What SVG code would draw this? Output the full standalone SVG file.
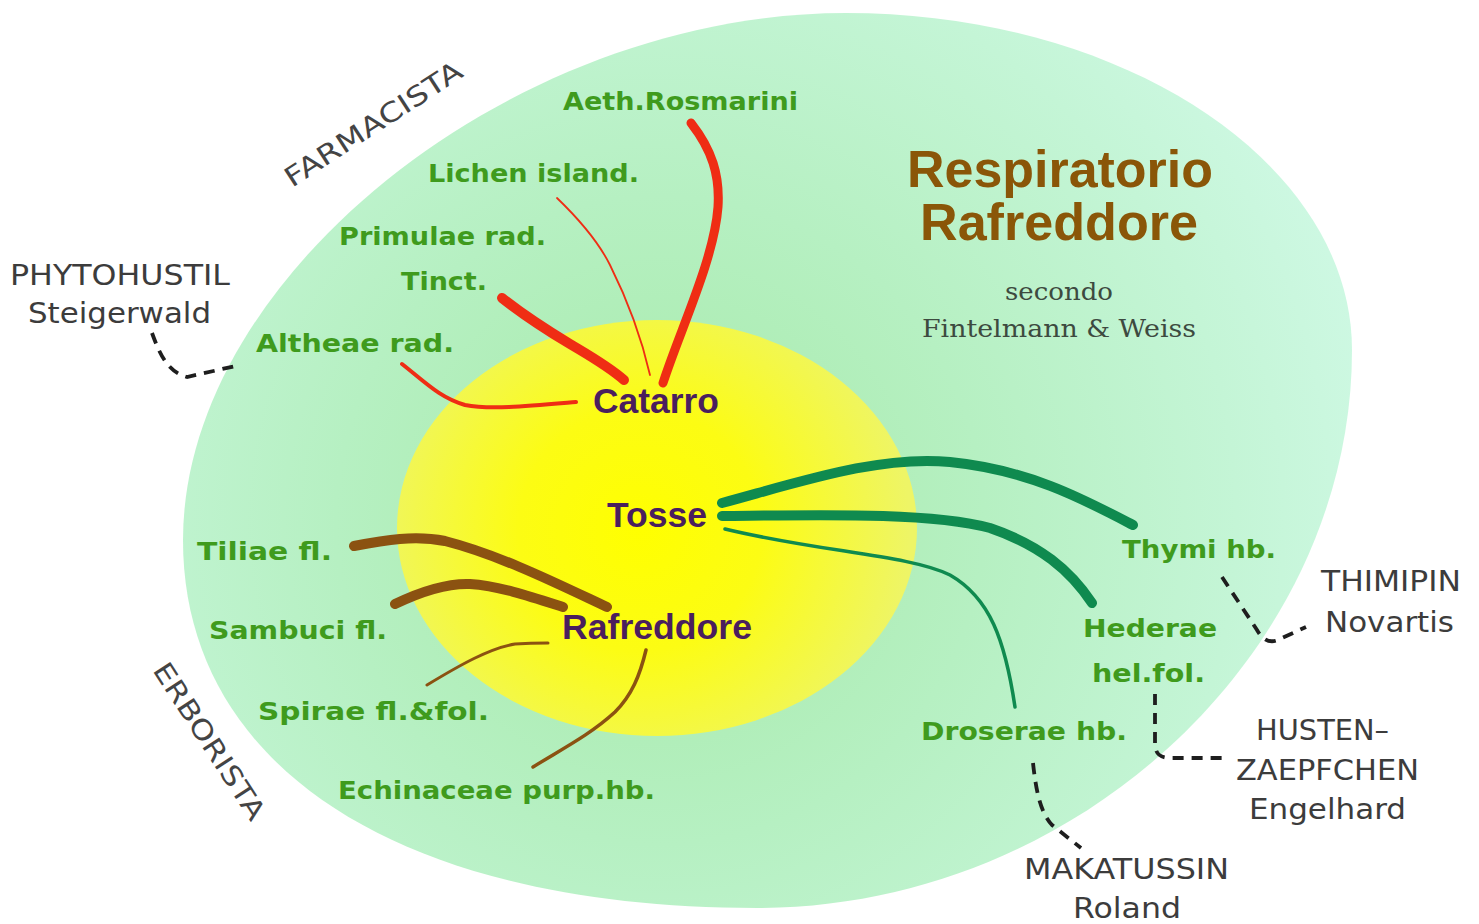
<svg xmlns="http://www.w3.org/2000/svg" width="1479" height="924" viewBox="0 0 1479 924">
<defs>
<radialGradient id="gGreen" gradientUnits="userSpaceOnUse" cx="660" cy="520" r="720">
<stop offset="0" stop-color="#a6eaa8"/>
<stop offset="0.45" stop-color="#b6f0c2"/>
<stop offset="0.8" stop-color="#c4f5d6"/>
<stop offset="1" stop-color="#cdf8e2"/>
</radialGradient>
<radialGradient id="gYellow" gradientUnits="userSpaceOnUse" cx="640" cy="530" r="270">
<stop offset="0" stop-color="#ffff00"/>
<stop offset="0.45" stop-color="#fcfc14"/>
<stop offset="1" stop-color="#eef566"/>
</radialGradient>
<style>
.lbl{font-family:"DejaVu Sans","Liberation Sans",sans-serif;font-weight:bold;font-size:24px;fill:#3f9b1d}
.hub{font-family:"Liberation Sans",Arial,sans-serif;font-weight:bold;font-size:35px;fill:#4a1e5e}
.prod{font-family:"DejaVu Sans","Liberation Sans",sans-serif;font-size:29px;fill:#3c3c3c}
.role{font-family:"DejaVu Sans","Liberation Sans",sans-serif;font-size:27px;fill:#444}
.title{font-family:"Liberation Sans",Arial,sans-serif;font-weight:bold;font-size:52px;fill:#8a5608}
.sub{font-family:"DejaVu Serif","Liberation Serif",serif;font-size:24px;fill:#3d4a40}
.red{fill:none;stroke:#ef2d14;stroke-linecap:round}
.grn{fill:none;stroke:#0f8a4f;stroke-linecap:round}
.brn{fill:none;stroke:#8b5211;stroke-linecap:round}
.dash{fill:none;stroke:#1e1e1e;stroke-width:3.8;stroke-dasharray:11 8}
</style>
</defs>
<rect width="1479" height="924" fill="#ffffff"/>
<g id="background">
<path d="M846,13 C1125,13 1352,164 1352,350 C1352,651 1078,908 757,908 C401,908 183,768 183,540 C183,276 514,13 846,13 Z" fill="url(#gGreen)"/>
<ellipse cx="657" cy="528" rx="260" ry="208" fill="url(#gYellow)"/>
</g>
<g id="connectors">
<path class="red" stroke-width="9" d="M691,123 C712,150 720,175 718,207 C714,260 680,330 663,383"/>
<path class="red" stroke-width="1.8" d="M557,198 C585,225 600,245 610,265 C630,305 642,340 650,375"/>
<path class="red" stroke-width="10" d="M502,298 C530,320 550,332 570,344 C590,356 608,366 624,380"/>
<path class="red" stroke-width="4" d="M402,364 C425,382 440,398 465,405 C490,410 530,406 576,402"/>
<path class="grn" stroke-width="10" d="M722,503 C800,482 880,455 950,462 C1030,470 1085,500 1133,525"/>
<path class="grn" stroke-width="10" d="M722,516 C820,515 930,512 990,528 C1040,545 1070,570 1092,603"/>
<path class="grn" stroke-width="3.5" d="M725,529 C820,552 910,555 950,575 C990,598 1005,640 1015,707"/>
<path class="brn" stroke-width="10" d="M354,546 C385,540 415,535 445,541 C500,555 560,585 607,607"/>
<path class="brn" stroke-width="10" d="M395,604 C420,592 445,583 470,584 C500,586 535,598 563,607"/>
<path class="brn" stroke-width="3" d="M427,685 C460,665 490,648 515,644 C530,643 540,643 548,643"/>
<path class="brn" stroke-width="3.5" d="M646,650 C640,675 632,695 615,712 C590,735 560,750 533,767"/>
<path class="dash" d="M152,333 C160,355 168,372 187,377 L240,365"/>
<path class="dash" d="M1222,577 L1257,630 C1264,642 1272,644 1282,638 L1306,627"/>
<path class="dash" d="M1155,694 L1155,745 C1156,756 1162,758 1172,758 L1225,758"/>
<path class="dash" d="M1033,763 C1036,790 1040,812 1052,825 L1081,848"/>
</g>
<g id="title">
<text class="title" x="907" y="187" textLength="306" lengthAdjust="spacingAndGlyphs">Respiratorio</text>
<text class="title" x="920" y="240" textLength="278" lengthAdjust="spacingAndGlyphs">Rafreddore</text>
<text class="sub" x="1005" y="300" textLength="108" lengthAdjust="spacingAndGlyphs">secondo</text>
<text class="sub" x="922" y="337" textLength="274" lengthAdjust="spacingAndGlyphs">Fintelmann &amp; Weiss</text>
</g>
<g id="role-farmacista"><text class="role" transform="translate(292,188) rotate(-33)" textLength="206" lengthAdjust="spacingAndGlyphs">FARMACISTA</text></g>
<g id="role-erborista"><text class="role" transform="translate(152,670) rotate(57)" textLength="182" lengthAdjust="spacingAndGlyphs">ERBORISTA</text></g>
<g id="node-catarro"><text class="hub" x="593" y="413" textLength="126" lengthAdjust="spacingAndGlyphs">Catarro</text></g>
<g id="node-tosse"><text class="hub" x="607" y="527" textLength="100" lengthAdjust="spacingAndGlyphs">Tosse</text></g>
<g id="node-rafreddore"><text class="hub" x="562" y="639" textLength="190" lengthAdjust="spacingAndGlyphs">Rafreddore</text></g>
<g id="node-aeth"><text class="lbl" x="563" y="110" textLength="235" lengthAdjust="spacingAndGlyphs">Aeth.Rosmarini</text></g>
<g id="node-lichen"><text class="lbl" x="428" y="182" textLength="211" lengthAdjust="spacingAndGlyphs">Lichen island.</text></g>
<g id="node-primulae"><text class="lbl" x="339" y="245" textLength="207" lengthAdjust="spacingAndGlyphs">Primulae rad.</text><text class="lbl" x="401" y="290" textLength="86" lengthAdjust="spacingAndGlyphs">Tinct.</text></g>
<g id="node-altheae"><text class="lbl" x="256" y="352" textLength="198" lengthAdjust="spacingAndGlyphs">Altheae rad.</text></g>
<g id="node-tiliae"><text class="lbl" x="197" y="560" textLength="135" lengthAdjust="spacingAndGlyphs">Tiliae fl.</text></g>
<g id="node-sambuci"><text class="lbl" x="209" y="639" textLength="178" lengthAdjust="spacingAndGlyphs">Sambuci fl.</text></g>
<g id="node-spirae"><text class="lbl" x="258" y="720" textLength="231" lengthAdjust="spacingAndGlyphs">Spirae fl.&amp;fol.</text></g>
<g id="node-echinaceae"><text class="lbl" x="338" y="799" textLength="317" lengthAdjust="spacingAndGlyphs">Echinaceae purp.hb.</text></g>
<g id="node-thymi"><text class="lbl" x="1122" y="558" textLength="154" lengthAdjust="spacingAndGlyphs">Thymi hb.</text></g>
<g id="node-hederae"><text class="lbl" x="1083" y="637" textLength="134" lengthAdjust="spacingAndGlyphs">Hederae</text><text class="lbl" x="1092" y="682" textLength="113" lengthAdjust="spacingAndGlyphs">hel.fol.</text></g>
<g id="node-droserae"><text class="lbl" x="921" y="740" textLength="206" lengthAdjust="spacingAndGlyphs">Droserae hb.</text></g>
<g id="node-phytohustil"><text class="prod" x="10" y="285" textLength="220" lengthAdjust="spacingAndGlyphs">PHYTOHUSTIL</text><text class="prod" x="28" y="323" textLength="183" lengthAdjust="spacingAndGlyphs">Steigerwald</text></g>
<g id="node-thimipin"><text class="prod" x="1321" y="591" textLength="140" lengthAdjust="spacingAndGlyphs">THIMIPIN</text><text class="prod" x="1325" y="632" textLength="129" lengthAdjust="spacingAndGlyphs">Novartis</text></g>
<g id="node-hustenzaepfchen"><text class="prod" x="1256" y="740" textLength="133" lengthAdjust="spacingAndGlyphs">HUSTEN–</text><text class="prod" x="1236" y="780" textLength="183" lengthAdjust="spacingAndGlyphs">ZAEPFCHEN</text><text class="prod" x="1249" y="819" textLength="157" lengthAdjust="spacingAndGlyphs">Engelhard</text></g>
<g id="node-makatussin"><text class="prod" x="1024" y="879" textLength="205" lengthAdjust="spacingAndGlyphs">MAKATUSSIN</text><text class="prod" x="1073" y="918" textLength="108" lengthAdjust="spacingAndGlyphs">Roland</text></g>
</svg>
